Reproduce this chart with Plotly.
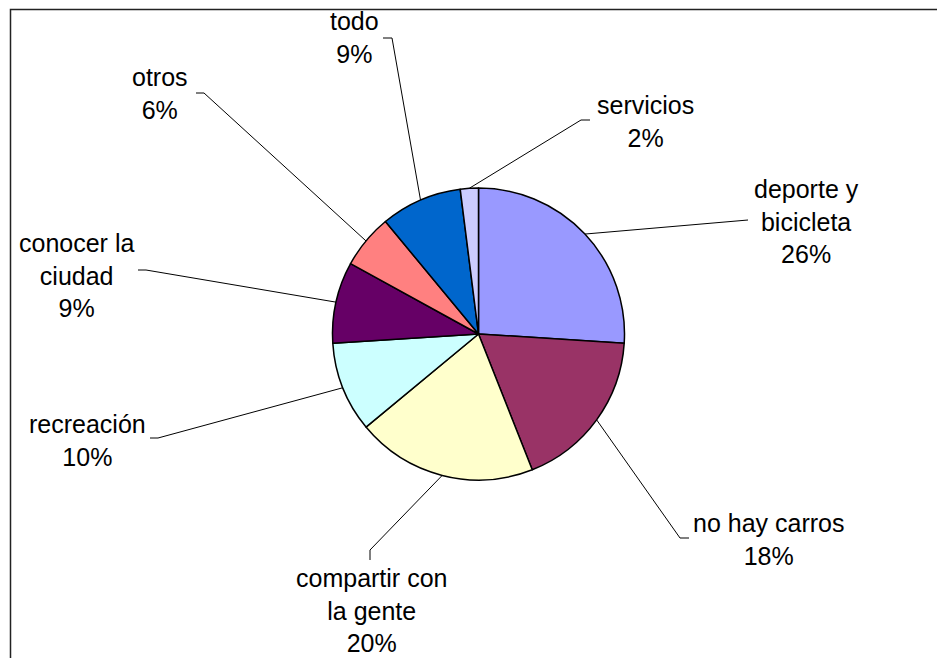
import math
import plotly.graph_objects as go

# ---- data ----
categories = ["deporte y<br>bicicleta", "no hay carros", "compartir con<br>la gente",
              "recreación", "conocer la<br>ciudad", "otros", "todo", "servicios"]
values = [26, 18, 20, 10, 9, 6, 9, 2]
colors = ["#9999FF", "#993366", "#FFFFCC", "#CCFFFF", "#660066", "#FF8080", "#0066CC", "#CCCCFF"]

# ---- layout (pixel positions of labels and leader lines) ----
W, H = 937, 658
CX, CY, R = 478.5, 334, 146
# label text centre, leader elbow, leader end (at label)
label_pos = [
    ((806, 221), (748, 220), (748, 220)),
    ((768, 539), (680, 538), (689, 538)),
    ((371, 610), (370, 550), (370, 560)),
    ((87, 440), (158, 438), (150, 438)),
    ((76, 275), (146, 270), (138, 270)),
    ((160, 93), (204, 93), (196, 93)),
    ((354, 37), (392, 38), (383, 38)),
    ((645, 121), (581, 120), (590, 120)),
]

total = sum(values)
fig = go.Figure()
fig.add_trace(go.Pie(
    labels=categories, values=values, sort=False, direction="clockwise", rotation=0,
    marker=dict(colors=colors, line=dict(color="black", width=1.5)),
    textinfo="none", hoverinfo="label+percent", showlegend=False,
    domain=dict(x=[(CX - R) / W, (CX + R) / W], y=[(H - CY - R) / H, (H - CY + R) / H]),
))

annotations = []
cum = 0
for lab, v, (tc, elbow, end) in zip(categories, values, label_pos):
    mid = (cum + v / 2) / total * 2 * math.pi
    cum += v
    sx = CX + R * math.sin(mid)
    sy = CY - R * math.cos(mid)
    fig.add_trace(go.Scatter(x=[sx, elbow[0], end[0]], y=[sy, elbow[1], end[1]],
                             mode="lines", line=dict(color="black", width=1),
                             hoverinfo="skip", showlegend=False))
    pct = round(v / total * 100)
    annotations.append(dict(x=tc[0], y=tc[1], xref="x", yref="y",
                            text=f"{lab}<br>{pct}%", showarrow=False,
                            xanchor="center", yanchor="middle", align="center",
                            font=dict(family="Liberation Sans, Arial, sans-serif", size=25, color="black")))

fig.update_layout(
    width=W, height=H, margin=dict(l=0, r=0, t=0, b=0),
    paper_bgcolor="white", plot_bgcolor="rgba(0,0,0,0)",
    xaxis=dict(range=[0, W], visible=False, fixedrange=True),
    yaxis=dict(range=[H, 0], visible=False, fixedrange=True),
    annotations=annotations,
    shapes=[dict(type="rect", xref="x", yref="y", x0=10.5, y0=9.5, x1=945, y1=680,
                 line=dict(color="#222222", width=1.5), layer="below")],
)

fig.write_html("out.html")
